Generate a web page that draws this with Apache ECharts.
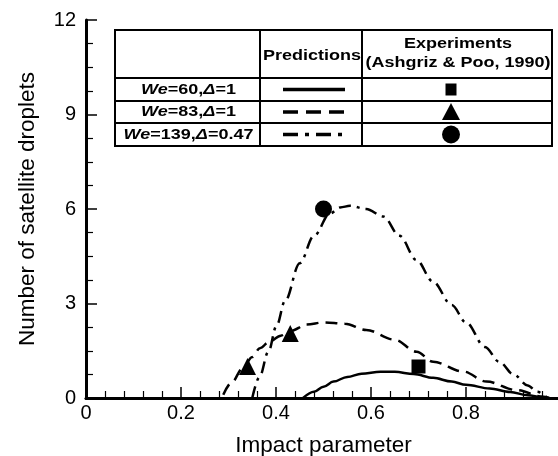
<!DOCTYPE html>
<html>
<head>
<meta charset="utf-8">
<script src="https://cdn.jsdelivr.net/npm/echarts@6/dist/echarts.min.js"></script>
<style>
  html, body { margin: 0; padding: 0; background: #fff; }
  #main { width: 558px; height: 456px; }
</style>
</head>
<body>
<div id="main"></div>
<script>
// predicted curves [impact parameter, number of droplets]
var predWe60 = [[0.457, 0], [0.48, 0.2], [0.5, 0.36], [0.521, 0.52], [0.55, 0.67], [0.58, 0.77],
  [0.62, 0.83], [0.65, 0.83], [0.69, 0.76], [0.731, 0.64], [0.77, 0.52], [0.80, 0.42],
  [0.85, 0.3], [0.893, 0.19], [0.93, 0.09], [0.96, 0.03], [0.975, 0]];
var predWe83 = [[0.289, 0.1], [0.307, 0.5], [0.33, 0.95], [0.35, 1.3], [0.366, 1.58], [0.387, 1.8],
  [0.41, 1.98], [0.43, 2.12], [0.465, 2.33], [0.5, 2.4], [0.545, 2.36], [0.59, 2.16],
  [0.65, 1.85], [0.696, 1.47], [0.731, 1.15], [0.794, 0.84], [0.843, 0.52], [0.907, 0.25],
  [0.962, 0.04], [0.975, 0]];
var predWe139 = [[0.35, 0], [0.365, 0.66], [0.384, 1.47], [0.401, 2.29], [0.419, 3.08], [0.45, 4.28],
  [0.48, 5.15], [0.514, 5.86], [0.535, 6.05], [0.556, 6.1], [0.59, 6.0], [0.626, 5.76],
  [0.66, 5.15], [0.696, 4.38], [0.73, 3.7], [0.77, 2.95], [0.80, 2.4], [0.84, 1.62],
  [0.87, 1.15], [0.90, 0.75], [0.93, 0.4], [0.95, 0.2], [0.97, 0.02]];

// experiments (Ashgriz & Poo, 1990)
var expWe60 = [[0.70, 1.0]];
var expWe83 = [[0.34, 1.0], [0.43, 2.05]];
var expWe139 = [[0.50, 6.0]];

var legendRows = ['{i|We}=60,{i|Δ}=1', '{i|We}=83,{i|Δ}=1', '{i|We}=139,{i|Δ}=0.47'];

var FONT = 'Liberation Sans, Arial, sans-serif';
var dashA = [12, 7];
var dashDot = [12, 6, 3, 6];

var chart = echarts.init(document.getElementById('main'));

function lineSeries(data, type) {
  return {
    type: 'line', data: data, xAxisIndex: 0, showSymbol: false, smooth: 0.35,
    smoothMonotone: 'x', clip: true, silent: true,
    lineStyle: { color: '#000', width: 2.5, type: type }
  };
}
function dotSeries(data, symbol, size) {
  return {
    type: 'scatter', data: data, symbol: symbol, symbolSize: size, silent: true,
    itemStyle: { color: '#000', opacity: 1 }
  };
}

// legend table
var tL = 115, tR = 552, tT = 30, tB = 146, c1 = 260, c2 = 362;
var rows = [78, 101, 123, 146];
var g = [];
g.push({ type: 'rect', shape: { x: tL, y: tT, width: tR - tL, height: tB - tT },
  style: { fill: '#fff', stroke: '#000', lineWidth: 2 }, z: 100 });
[c1, c2].forEach(function (cx) {
  g.push({ type: 'line', shape: { x1: cx, y1: tT, x2: cx, y2: tB }, style: { stroke: '#000', lineWidth: 2 }, z: 101 });
});
rows.slice(0, 3).forEach(function (ry) {
  g.push({ type: 'line', shape: { x1: tL, y1: ry, x2: tR, y2: ry }, style: { stroke: '#000', lineWidth: 2 }, z: 101 });
});
var BOLD = 'bold 15px "Liberation Sans", Arial, sans-serif';
var ITAL = 'italic bold 15px "Liberation Sans", Arial, sans-serif';
var SX = 1.2;
function cellText(t, x, y, extra) {
  return {
    type: 'text', z: 102, x: x, y: y, scaleX: SX,
    style: Object.assign({ text: t, x: 0, y: 0, align: 'center', verticalAlign: 'middle', fill: '#000', font: BOLD }, extra || {})
  };
}
g.push(cellText('Predictions', (c1 + c2) / 2 + 1, 56));
g.push(cellText('Experiments', (c2 + tR) / 2 + 1, 44));
g.push(cellText('(Ashgriz & Poo, 1990)', (c2 + tR) / 2 + 1, 63));
var sampleDash = [null, [15, 8], [15, 7, 4, 7]];
var syms = [
  { type: 'rect', shape: { x: -5.5, y: -6, width: 11, height: 12 } },
  { type: 'polygon', shape: { points: [[0, -9], [9, 8], [-9, 8]] } },
  { type: 'circle', shape: { cx: 0, cy: 0, r: 9 } }
];
legendRows.forEach(function (t, i) {
  var cy = (rows[i] + rows[i + 1]) / 2;
  g.push(cellText(t, (tL + c1) / 2 + 1, cy, { rich: { i: { font: ITAL } } }));
  g.push({ type: 'line', z: 102, shape: { x1: 283, y1: cy, x2: 345, y2: cy },
    style: { stroke: '#000', lineWidth: 3.5, lineDash: sampleDash[i] } });
  var s = Object.assign({}, syms[i]);
  s.x = 451; s.y = cy; s.z = 102; s.style = { fill: '#000' };
  g.push(s);
});

var option = {
  backgroundColor: '#fff',
  animation: false,
  textStyle: { fontFamily: FONT },
  grid: { left: 86, top: 20, width: 475, height: 378, outerBoundsMode: 'none', containLabel: false },
  xAxis: [{
    type: 'value', min: 0, max: 1, interval: 0.2,
    name: 'Impact parameter', nameLocation: 'middle', nameGap: 36,
    nameTextStyle: { fontSize: 22.5, color: '#000', fontFamily: FONT },
    axisLine: { show: true, onZero: false, lineStyle: { color: '#000', width: 3 } },
    axisTick: { show: true, inside: true, length: 11, lineStyle: { color: '#000', width: 1.5 } },
    minorTick: { show: true, splitNumber: 5, length: 7, lineStyle: { color: '#000', width: 1.2 } },
    axisLabel: { fontSize: 20, color: '#000', margin: 5, fontFamily: FONT,
      formatter: function (v) { return v >= 1 ? '' : String(+v.toFixed(1)); } },
    splitLine: { show: false }
  }, {
    type: 'value', min: 0, max: 1, position: 'top',
    axisLine: { show: true, lineStyle: { color: '#000', width: 2.5 } },
    axisTick: { show: false }, axisLabel: { show: false }, splitLine: { show: false }
  }],
  yAxis: {
    type: 'value', min: 0, max: 12, interval: 3,
    name: 'Number of satellite droplets', nameLocation: 'middle', nameGap: 47,
    nameTextStyle: { fontSize: 22.5, color: '#000', fontFamily: FONT },
    axisLine: { show: true, onZero: false, lineStyle: { color: '#000', width: 3 } },
    axisTick: { show: true, inside: true, length: 11, lineStyle: { color: '#000', width: 1.5 } },
    minorTick: { show: true, splitNumber: 4, length: 7, lineStyle: { color: '#000', width: 1.2 } },
    axisLabel: { fontSize: 20, color: '#000', margin: 10, fontFamily: FONT },
    splitLine: { show: false }
  },
  series: [
    lineSeries(predWe60, 'solid'),
    lineSeries(predWe83, dashA),
    lineSeries(predWe139, dashDot),
    dotSeries(expWe60, 'rect', 14),
    dotSeries(expWe83, 'triangle', 17),
    dotSeries(expWe139, 'circle', 17)
  ],
  graphic: g
};

chart.setOption(option);
</script>
</body>
</html>
